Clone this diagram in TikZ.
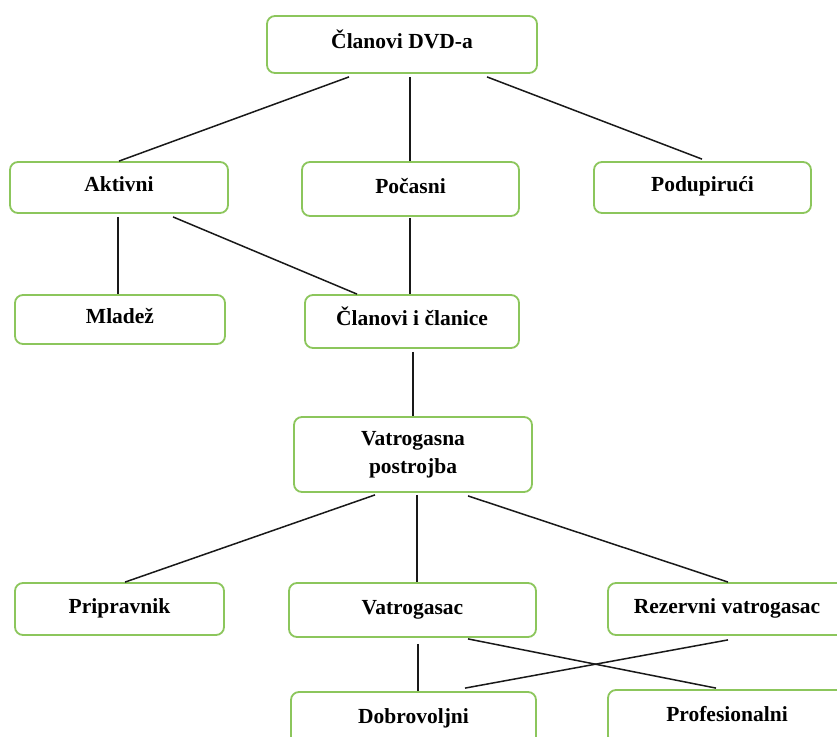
\documentclass[tikz,border=0pt]{standalone}
\usepackage{fontspec}
\setmainfont{Liberation Serif}
\definecolor{boxgreen}{RGB}{140,198,92}
\definecolor{linegray}{RGB}{25,25,25}
\begin{document}
\begin{tikzpicture}[x=1pt,y=-1pt,
  box/.style={draw=boxgreen, line width=1.8pt, rounded corners=8pt, fill=white,
    align=center, inner sep=0pt, font=\fontsize{21.5}{28}\selectfont\bfseries},
  onebox/.style={box, text height=15pt, text depth=7pt},
  conn/.style={draw=linegray, line width=1.5pt}]
\useasboundingbox[fill=white] (0,0) rectangle (837,736);

\node[onebox, minimum width=270pt, minimum height=57pt] (dvd) at (402,44.5) {Članovi DVD-a};
\node[onebox, minimum width=218pt, minimum height=51pt] (akt) at (119,187.5) {Aktivni};
\node[onebox, minimum width=217pt, minimum height=54pt] (poc) at (410.5,189) {Počasni};
\node[onebox, minimum width=217pt, minimum height=51pt] (pod) at (702.5,187.5) {Podupirući};
\node[onebox, minimum width=210pt, minimum height=49pt] (mla) at (120,319.5) {Mladež};
\node[onebox, minimum width=214pt, minimum height=53pt] (cla) at (412,321.5) {Članovi i članice};
\node[box, minimum width=238pt, minimum height=75pt] (vat) at (413,454.5) {Vatrogasna\\postrojba};
\node[onebox, minimum width=209pt, minimum height=52pt] (pri) at (119.5,609) {Pripravnik};
\node[onebox, minimum width=247pt, minimum height=54pt] (vac) at (412.5,610) {Vatrogasac};
\node[onebox, minimum width=238pt, minimum height=52pt] (rez) at (727,609) {Rezervni vatrogasac};
\node[onebox, minimum width=245pt, minimum height=54pt] (dob) at (413.5,719) {Dobrovoljni};
\node[onebox, minimum width=238pt, minimum height=54pt] (pro) at (727,717) {Profesionalni};

\draw[conn] ([shift={(-53,3)}]dvd.south) -- ([shift={(0,0)}]akt.north);
\draw[conn] ([shift={(8,3)}]dvd.south) -- ([shift={(-0.5,0)}]poc.north);
\draw[conn] ([shift={(85,3)}]dvd.south) -- ([shift={(-0.5,-2)}]pod.north);
\draw[conn] ([shift={(-1,3)}]akt.south) -- ([shift={(-2,0)}]mla.north);
\draw[conn] ([shift={(54,3)}]akt.south) -- ([shift={(-55,0)}]cla.north);
\draw[conn] ([shift={(-0.5,1)}]poc.south) -- ([shift={(-2,0)}]cla.north);
\draw[conn] ([shift={(1,3)}]cla.south) -- (vat.north);
\draw[conn] ([shift={(-38,2)}]vat.south) -- ([shift={(5.5,0)}]pri.north);
\draw[conn] ([shift={(4,2)}]vat.south) -- ([shift={(4.5,0)}]vac.north);
\draw[conn] ([shift={(55,3)}]vat.south) -- ([shift={(1,0)}]rez.north);
\draw[conn] ([shift={(5.5,6)}]vac.south) -- ([shift={(4.5,0)}]dob.north);
\draw[conn] ([shift={(55.5,1)}]vac.south) -- ([shift={(-11,-1)}]pro.north);
\draw[conn] ([shift={(1,4)}]rez.south) -- ([shift={(51.5,-3)}]dob.north);
\end{tikzpicture}
\end{document}
